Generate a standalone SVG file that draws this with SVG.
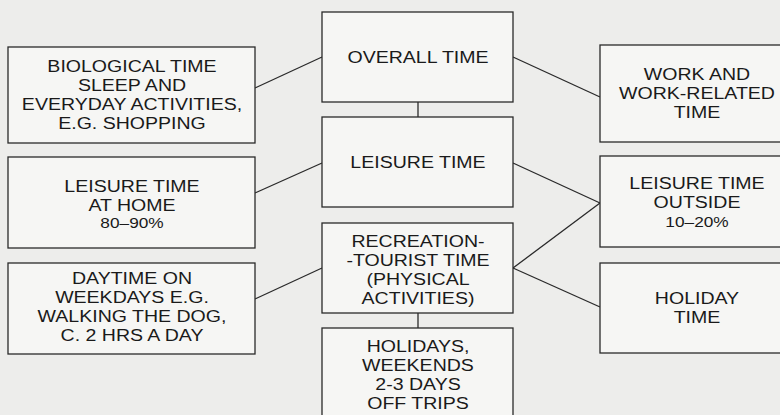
<svg xmlns="http://www.w3.org/2000/svg" width="780" height="415" viewBox="0 0 780 415">
<style>
.box{fill:#f6f6f4;stroke:#2a2a2a;stroke-width:1.3}
.t{font-family:"Liberation Sans",Arial,sans-serif;font-size:17px;fill:#1a1a1a;text-anchor:middle}
.s{font-size:15px}
.c{stroke:#2a2a2a;stroke-width:1.3;fill:none}
</style>
<rect x="0" y="0" width="780" height="415" fill="#ededeb"/>
<g id="connectors">
<line class="c" x1="255" y1="88" x2="322" y2="57"/>
<line class="c" x1="255" y1="193" x2="322" y2="163"/>
<line class="c" x1="255" y1="299" x2="322" y2="268"/>
<line class="c" x1="513" y1="57" x2="600" y2="97"/>
<line class="c" x1="513" y1="163" x2="600" y2="203"/>
<line class="c" x1="513" y1="268" x2="600" y2="203"/>
<line class="c" x1="513" y1="268" x2="600" y2="307"/>
<line class="c" x1="418" y1="102" x2="418" y2="117"/>
<line class="c" x1="418" y1="313" x2="418" y2="328"/>
</g>
<g id="biological">
<rect class="box" x="8" y="47" width="247" height="96"/>
<g transform="translate(132 0) scale(1.15 1)">
<text class="t" x="0" y="72">BIOLOGICAL TIME</text>
<text class="t" x="0" y="91">SLEEP AND</text>
<text class="t" x="0" y="110">EVERYDAY ACTIVITIES,</text>
<text class="t" x="0" y="129">E.G. SHOPPING</text>
</g>
</g>
<g id="leisure-home">
<rect class="box" x="8" y="157" width="247" height="91"/>
<g transform="translate(132 0) scale(1.15 1)">
<text class="t" x="0" y="192">LEISURE TIME</text>
<text class="t" x="0" y="211">AT HOME</text>
<text class="t s" x="0" y="228">80–90%</text>
</g>
</g>
<g id="daytime">
<rect class="box" x="8" y="263" width="247" height="91"/>
<g transform="translate(132 0) scale(1.15 1)">
<text class="t" x="0" y="284.5">DAYTIME ON</text>
<text class="t" x="0" y="303.5">WEEKDAYS E.G.</text>
<text class="t" x="0" y="322.5">WALKING THE DOG,</text>
<text class="t" x="0" y="341.5">C. 2 HRS A DAY</text>
</g>
</g>
<g id="overall">
<rect class="box" x="322" y="12" width="191" height="90"/>
<g transform="translate(418 0) scale(1.15 1)">
<text class="t" x="0" y="63.5">OVERALL TIME</text>
</g>
</g>
<g id="leisure">
<rect class="box" x="322" y="117" width="191" height="90"/>
<g transform="translate(418 0) scale(1.15 1)">
<text class="t" x="0" y="168">LEISURE TIME</text>
</g>
</g>
<g id="recreation">
<rect class="box" x="322" y="223" width="191" height="90"/>
<g transform="translate(418 0) scale(1.15 1)">
<text class="t" x="0" y="247.5">RECREATION-</text>
<text class="t" x="0" y="266.5">-TOURIST TIME</text>
<text class="t" x="0" y="285.5">(PHYSICAL</text>
<text class="t" x="0" y="304.5">ACTIVITIES)</text>
</g>
</g>
<g id="holidays">
<rect class="box" x="322" y="328" width="191" height="100"/>
<g transform="translate(418 0) scale(1.15 1)">
<text class="t" x="0" y="352.5">HOLIDAYS,</text>
<text class="t" x="0" y="371.5">WEEKENDS</text>
<text class="t" x="0" y="390.5">2-3 DAYS</text>
<text class="t" x="0" y="409.5">OFF TRIPS</text>
</g>
</g>
<g id="work">
<rect class="box" x="600" y="45" width="200" height="97"/>
<g transform="translate(697 0) scale(1.15 1)">
<text class="t" x="0" y="80">WORK AND</text>
<text class="t" x="0" y="99">WORK-RELATED</text>
<text class="t" x="0" y="118">TIME</text>
</g>
</g>
<g id="leisure-outside">
<rect class="box" x="600" y="156" width="200" height="91"/>
<g transform="translate(697 0) scale(1.15 1)">
<text class="t" x="0" y="189.5">LEISURE TIME</text>
<text class="t" x="0" y="208.5">OUTSIDE</text>
<text class="t s" x="0" y="227">10–20%</text>
</g>
</g>
<g id="holiday-time">
<rect class="box" x="600" y="263" width="200" height="90"/>
<g transform="translate(697 0) scale(1.15 1)">
<text class="t" x="0" y="304.5">HOLIDAY</text>
<text class="t" x="0" y="323.5">TIME</text>
</g>
</g>
</svg>
